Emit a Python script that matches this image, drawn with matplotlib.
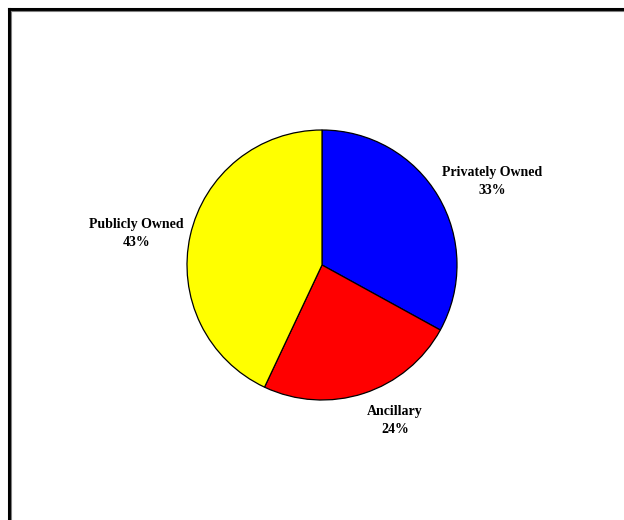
import matplotlib
matplotlib.use("Agg")
import matplotlib.pyplot as plt
from matplotlib.lines import Line2D

categories = ["Privately Owned", "Ancillary", "Publicly Owned"]
values = [33, 24, 43]
colors = ["#0000FF", "#FF0000", "#FFFF00"]
label_pos = [(1.26, 0.615), (0.54, -1.15), (-1.374, 0.237)]

W, H = 624, 520
fig = plt.figure(figsize=(W / 100, H / 100), dpi=100)
fig.patch.set_facecolor("white")

# chart frame (top and left edges visible; rest outside the image)
fig.add_artist(Line2D([8.5 / W, 1.05], [1 - 8.5 / H, 1 - 8.5 / H], color="black", lw=2.2, transform=fig.transFigure))
fig.add_artist(Line2D([8.5 / W, 8.5 / W], [-0.05, 1 - 8.5 / H], color="black", lw=2.2, transform=fig.transFigure))
fig.add_artist(Line2D([10.5 / W, 1.05], [1 - 10.5 / H, 1 - 10.5 / H], color="#808080", lw=0.8, transform=fig.transFigure))
fig.add_artist(Line2D([10.5 / W, 10.5 / W], [-0.05, 1 - 10.5 / H], color="#808080", lw=0.8, transform=fig.transFigure))

cx, cy, r = 322, 520 - 265, 135
ax = fig.add_axes([(cx - r) / W, (cy - r) / H, 2 * r / W, 2 * r / H])
ax.pie(values, colors=colors, startangle=90, counterclock=False,
       wedgeprops=dict(edgecolor="black", linewidth=0.9))
ax.set_xlim(-1, 1)
ax.set_ylim(-1, 1)
ax.set_aspect("equal")
ax.axis("off")

total = sum(values)
for cat, v, (x, y) in zip(categories, values, label_pos):
    ax.text(x, y, f"{cat}\n{round(100 * v / total)}%", ha="center", va="center",
            fontsize=10, fontweight="bold", family="Liberation Serif",
            linespacing=1.5, clip_on=False)

fig.savefig("out.png", dpi=100, facecolor="white")
